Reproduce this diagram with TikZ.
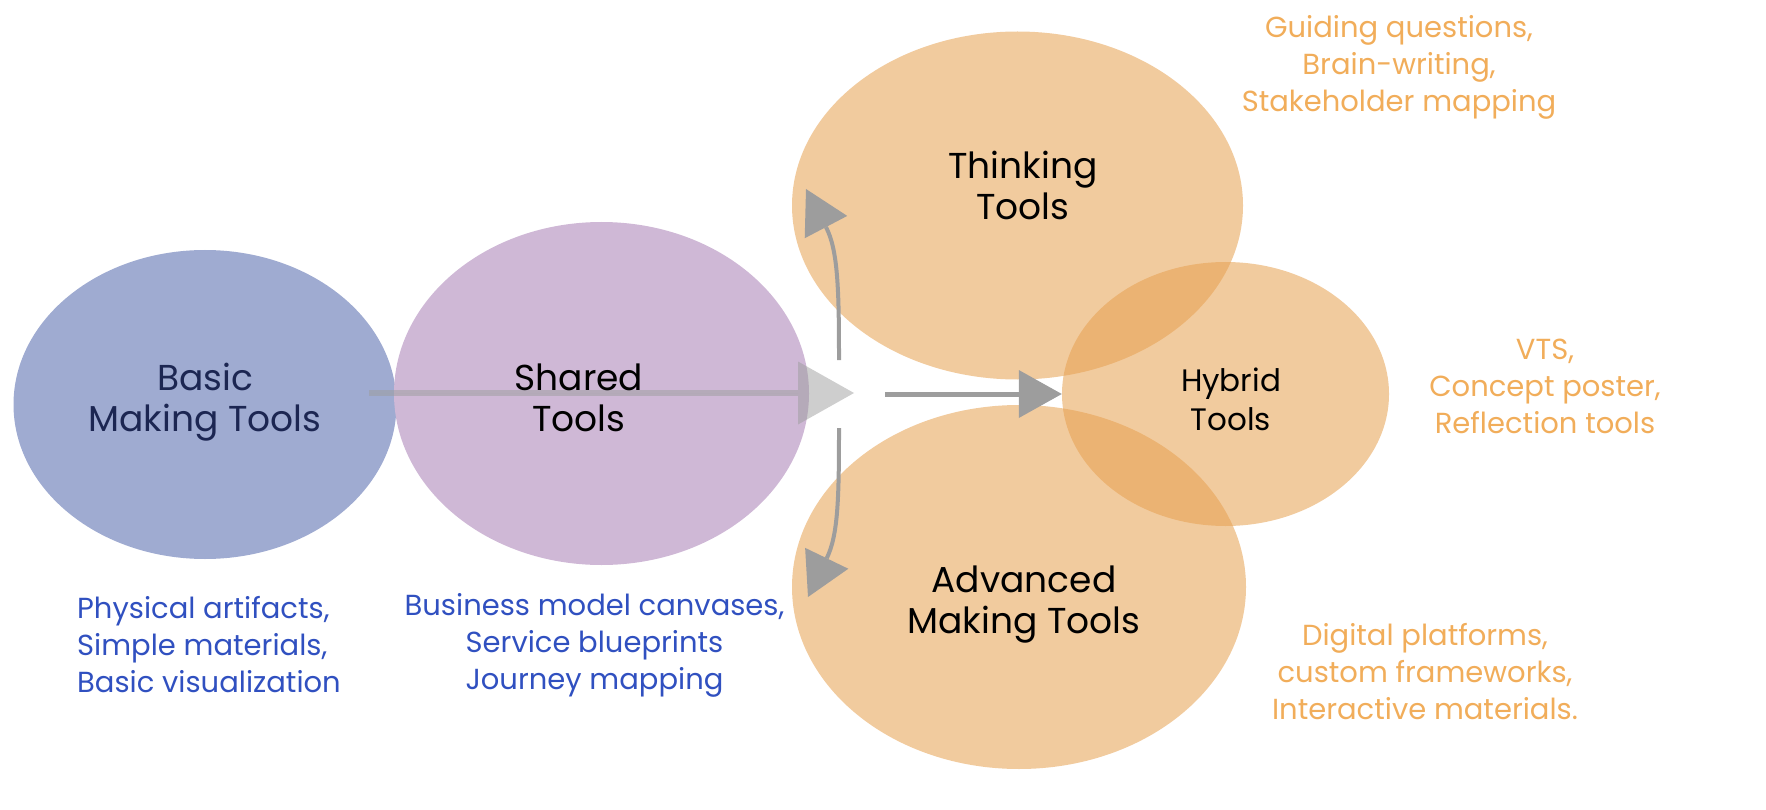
\documentclass[tikz,border=0pt]{standalone}
\usepackage{fontspec}
\setmainfont{Poppins}
\usetikzlibrary{shapes.geometric,arrows.meta}
\definecolor{basicfill}{RGB}{159,171,209}
\definecolor{sharedfill}{RGB}{207,184,214}
\definecolor{orangebase}{RGB}{230,160,79}
\definecolor{orangetext}{RGB}{241,173,90}
\definecolor{bluetext}{RGB}{48,80,192}
\definecolor{navytext}{RGB}{28,38,82}
\definecolor{arrowgray}{RGB}{157,157,157}
\tikzset{
  x=1pt, y=-1pt,
  blob/.style={ellipse, inner sep=0pt, draw=none},
  orangeblob/.style={blob, fill=orangebase, fill opacity=0.55},
  title/.style={align=center, inner sep=0pt, font=\fontsize{36}{41}\selectfont},
  smalltitle/.style={align=center, inner sep=0pt, font=\fontsize{31}{39}\selectfont},
  body/.style={inner sep=0pt, font=\fontsize{29}{37}\selectfont},
  grayline/.style={draw=arrowgray, line width=4pt},
}
\begin{document}
\begin{tikzpicture}
\useasboundingbox (0,0) rectangle (1766,810);
% ellipses
\node[blob, fill=basicfill, minimum width=383pt, minimum height=309pt] (basic) at (205,404.5) {};
\node[blob, fill=sharedfill, minimum width=415pt, minimum height=343pt] (shared) at (601.5,393.5) {};
\node[orangeblob, minimum width=451pt, minimum height=348pt] (think) at (1017.5,205.5) {};
\node[orangeblob, minimum width=454pt, minimum height=364pt] (adv) at (1019,587) {};
\node[orangeblob, minimum width=327pt, minimum height=264pt] (hybrid) at (1225.5,394) {};
% connectors
\coordinate (a1s) at (369,393);
\coordinate (a1e) at (854,393);
\draw[draw=arrowgray, fill=arrowgray, opacity=0.5, line width=6pt,
  -{Triangle[length=56pt,width=63pt,line width=0pt]}] (a1s) -- (a1e);
\coordinate (a2s) at (885,394);
\draw[grayline, line width=5pt, -{Triangle[length=43pt,width=48pt,line width=0pt,fill=arrowgray]}] (a2s) -- (hybrid.west);
\coordinate (up0) at (839,360);
\coordinate (up1) at (806,189);
\draw[grayline, -{Triangle[length=43pt,width=48pt,line width=0pt,fill=arrowgray]}] (up0) .. controls (839,290) and (838,250) .. (up1);
\coordinate (dn0) at (839,428);
\coordinate (dn1) at (808,597);
\draw[grayline, -{Triangle[length=43pt,width=48pt,line width=0pt,fill=arrowgray]}] (dn0) .. controls (839,500) and (838,535) .. (dn1);
% titles
\node[title, text=navytext] (tbasic) at (205,402) {Basic\\Making Tools};
\node[title] (tshared) at (579,398) {Shared\\Tools};
\node[title] (tthink) at (1023,185) {Thinking\\Tools};
\node[smalltitle] (thybrid) at (1231,399) {Hybrid\\Tools};
\node[title] (tadv) at (1024,605) {Advanced\\Making Tools};
% descriptions
\node[body, text=orangetext, align=center] (dthink) at (1399,67) {Guiding questions,\\Brain-writing,\\Stakeholder mapping};
\node[body, text=orangetext, align=center] (dhybrid) at (1545,386) {VTS,\\Concept poster,\\Reflection tools};
\node[body, text=orangetext, align=center] (dadv) at (1425,672) {Digital platforms,\\custom frameworks,\\Interactive materials.};
\node[body, text=bluetext, align=left, anchor=west] (dbasic) at (77,645) {Physical artifacts,\\Simple materials,\\Basic visualization};
\node[body, text=bluetext, align=center] (dshared) at (594.5,645) {Business model canvases,\\Service blueprints\\Journey mapping};
\end{tikzpicture}
\end{document}
